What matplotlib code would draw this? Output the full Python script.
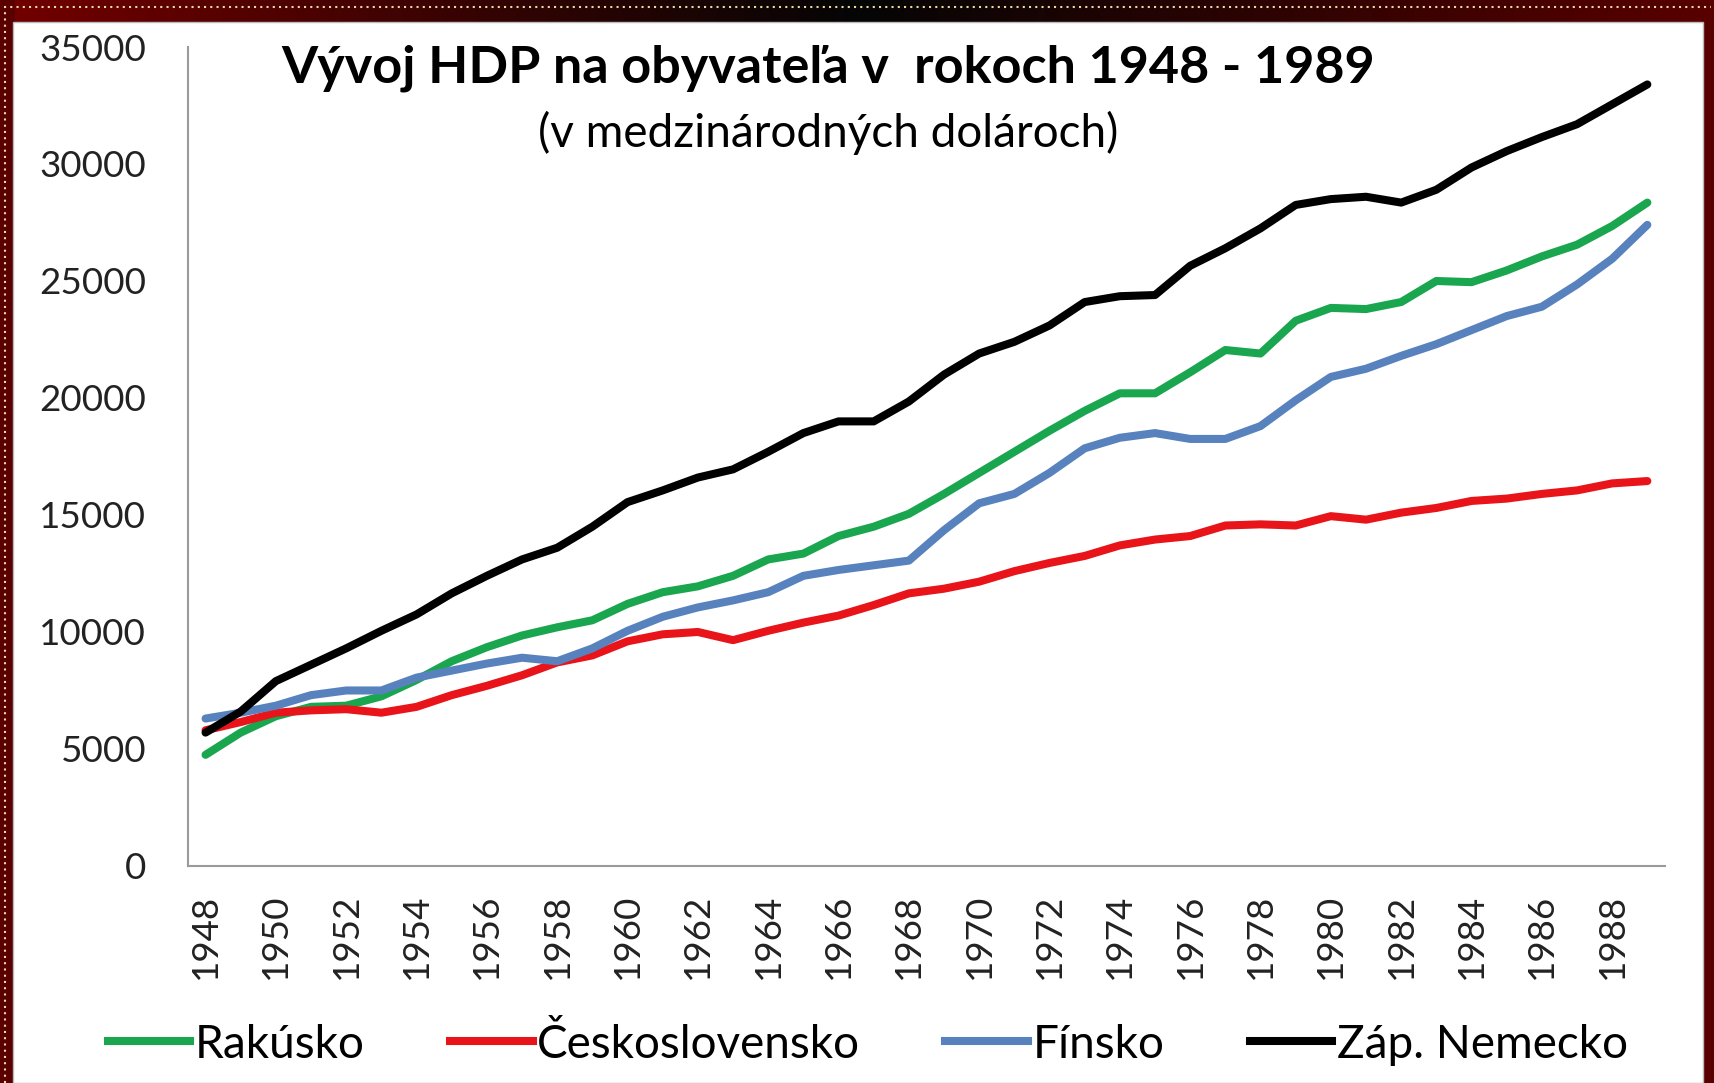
import numpy as np
import matplotlib.pyplot as plt
from matplotlib.patches import Rectangle
from matplotlib.lines import Line2D

plt.rcParams['font.family'] = ['Lato', 'DejaVu Sans']

years = list(range(1948, 1990))

rakusko = [4750, 5700, 6400, 6800, 6850, 7250, 7950, 8750, 9350, 9850,
           10200, 10500, 11200, 11700, 11950, 12400, 13100, 13350, 14100, 14500,
           15050, 15900, 16800, 17700, 18600, 19450, 20200, 20200, 21100, 22050,
           21900, 23300, 23850, 23800, 24100, 25000, 24950, 25450, 26050, 26550,
           27350, 28350]
ceskoslovensko = [5800, 6150, 6550, 6650, 6700, 6550, 6800, 7300, 7700, 8150,
                  8700, 9000, 9600, 9900, 10000, 9650, 10050, 10400, 10700, 11150,
                  11650, 11850, 12150, 12600, 12950, 13250, 13700, 13950, 14100, 14550,
                  14600, 14550, 14950, 14800, 15100, 15300, 15600, 15700, 15900, 16050,
                  16350, 16450]
finsko = [6300, 6550, 6850, 7300, 7500, 7500, 8050, 8350, 8650, 8900,
          8750, 9300, 10050, 10650, 11050, 11350, 11700, 12400, 12650, 12850,
          13050, 14350, 15500, 15900, 16800, 17850, 18300, 18500, 18250, 18250,
          18800, 19900, 20900, 21250, 21800, 22300, 22900, 23500, 23900, 24850,
          25950, 27400]
nemecko = [5700, 6600, 7900, 8600, 9300, 10050, 10750, 11650, 12400, 13100,
           13600, 14500, 15550, 16050, 16600, 16950, 17700, 18500, 19000, 19000,
           19850, 21000, 21900, 22400, 23100, 24100, 24350, 24400, 25650, 26400,
           27250, 28250, 28500, 28600, 28350, 28900, 29850, 30550, 31150, 31700,
           32550, 33400]

names = ['Rakúsko', 'Československo', 'Fínsko', 'Záp. Nemecko']
colors = ['#1aa54f', '#e8141a', '#5882bd', '#000000']
series = [rakusko, ceskoslovensko, finsko, nemecko]

fig = plt.figure(figsize=(17.15, 10.83), dpi=100)

# dark red / black frame behind the white panel
bg = fig.add_axes([0, 0, 1, 1], zorder=-10)
grad = np.linspace(0, 1, 256)
r = np.interp(grad, [0, 0.5, 1], [0.45, 0.02, 0.35])
g = np.interp(grad, [0, 0.5, 1], [0.0, 0.02, 0.0])
b = np.interp(grad, [0, 0.5, 1], [0.0, 0.02, 0.0])
img = np.stack([r, g, b], axis=1)[None, :, :]
bg.imshow(img, aspect='auto', extent=[0, 1, 0, 1])
bg.add_patch(Rectangle((0, 0), 0.008, 1, color='#5a0000'))
bg.add_patch(Rectangle((13 / 1715, 0), 1 - 13 / 1715 - 12 / 1715, 1 - 22 / 1083,
                       facecolor='white', edgecolor='#bbbbbb', lw=1))
bg.plot([4 / 1715, 1 - 4 / 1715], [1 - 7 / 1083] * 2, ls=(0, (1, 2)),
        color='#e8dca0', lw=1.5)
bg.plot([5 / 1715] * 2, [0, 1 - 7 / 1083], ls=(0, (1, 2)), color='#e8dca0', lw=1.5)
bg.set_xlim(0, 1)
bg.set_ylim(0, 1)
bg.axis('off')

ax = fig.add_axes([0.1096, 0.2004, 0.8612, 0.7562])
ax.set_facecolor('none')
x = np.arange(len(years))
for vals, c in zip(series, colors):
    ax.plot(x, vals, color=c, lw=5.8, solid_capstyle='round', solid_joinstyle='round')

ax.set_xlim(-0.5, len(years) - 0.5)
ax.set_ylim(0, 35000)
ax.set_yticks(range(0, 35001, 5000))
ax.set_xticks(x[::2])
ax.set_xticklabels([str(y) for y in years[::2]], rotation=90)
ax.tick_params(axis='both', length=0, labelsize=26.5, colors='#222222')
ax.tick_params(axis='y', pad=30)
ax.tick_params(axis='x', pad=20)
for s in ['top', 'right']:
    ax.spines[s].set_visible(False)
for s in ['left', 'bottom']:
    ax.spines[s].set_color('#9a9a9a')
    ax.spines[s].set_linewidth(1.5)

fig.text(0.483, 0.937, 'Vývoj HDP na obyvateľa v  rokoch 1948 - 1989',
         ha='center', va='center', fontsize=37.5, fontweight='bold')
fig.text(0.483, 0.877, '(v medzinárodných dolároch)',
         ha='center', va='center', fontsize=33)

handles = [Line2D([], [], color=c, lw=5.8) for c in colors]
fig.legend(handles, names, loc='center', bbox_to_anchor=(0.506, 0.036), ncol=4,
           frameon=False, fontsize=33, handlelength=1.8, handletextpad=0.1,
           columnspacing=1.86)

fig.savefig('out.png', dpi=100)
